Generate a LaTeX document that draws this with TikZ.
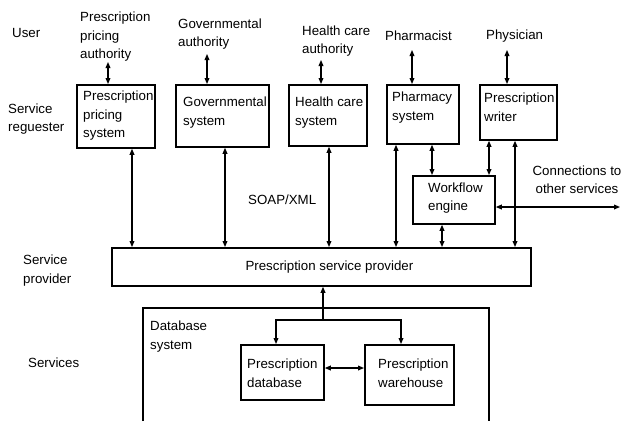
\documentclass[tikz,border=0pt]{standalone}
\usepackage{fontspec}
\setmainfont{Liberation Sans}
\usetikzlibrary{arrows.meta}

\tikzset{
  box/.style={draw, line width=1.8pt, anchor=north west, inner sep=0pt},
  txt/.style={anchor=west, align=left, inner sep=0pt, font=\fontsize{13.3}{18.5}\selectfont},
  link/.style={line width=1.1pt, {Triangle[length=6pt,width=4.8pt]}-{Triangle[length=6pt,width=4.8pt]}},
  uplink/.style={line width=1.1pt, -{Triangle[length=6pt,width=4.8pt]}},
}

\begin{document}
\begin{tikzpicture}[x=1pt,y=-1pt]
\useasboundingbox (0,0) rectangle (623,421);

% layer names
\node[txt] (user) at (12,33) {User};
\node[txt] (req) at (8,119) {Service\\reguester};
\node[txt] (prov) at (23,270.5) {Service\\provider};
\node[txt] (serv) at (28,363) {Services};

% users
\node[txt] (ppa) at (80,37) {Prescription\\pricing\\authority};
\node[txt] (ga) at (178,34) {Governmental\\authority};
\node[txt] (hca) at (302,41) {Health care\\authority};
\node[txt] (pharmacist) at (385,36) {Pharmacist};
\node[txt] (physician) at (486,36) {Physician};

% requesters
\node[box, minimum width=78, minimum height=63] (pps) at (76,84) {};
\node[txt] (ppstext) at (83,116) {Prescription\\pricing\\system};
\node[box, minimum width=93, minimum height=62] (gov) at (175,84) {};
\node[txt] (govtext) at (183,112.5) {Governmental\\system};
\node[box, minimum width=78, minimum height=61] (hcs) at (288,84) {};
\node[txt] (hcstext) at (295,112.5) {Health care\\system};
\node[box, minimum width=72, minimum height=59] (phs) at (386,84) {};
\node[txt] (phstext) at (392,107.5) {Pharmacy\\system};
\node[box, minimum width=77, minimum height=55] (pw) at (479,84) {};
\node[txt] (pwtext) at (484,107) {Prescription\\writer};
\node[box, minimum width=82, minimum height=48] (wfe) at (412,175) {};
\node[txt] (wfetext) at (428,198) {Workflow\\engine};

\node[txt] (soap) at (248,200) {SOAP/XML};
\node[txt, anchor=center, align=center] (conn) at (577,179.5) {Connections to\\other services};

% provider
\node[box, minimum width=419, minimum height=38, font=\fontsize{13.3}{18.5}\selectfont] (psp) at (111,247) {\hspace*{16pt}Prescription service provider};

% services
\draw[line width=1.8pt] (143,421) |- (489,308) -- (489,421);
\node[txt] (dbsys) at (150,336.5) {Database\\system};
\node[box, minimum width=83, minimum height=55] (pdb) at (240,344) {};
\node[txt] (pdbtext) at (247,373) {Prescription\\database};
\node[box, minimum width=89, minimum height=60] (pwh) at (364,344) {};
\node[txt] (pwhtext) at (378,373) {Prescription\\warehouse};

% user links
\coordinate (u1) at (108,62);
\coordinate (u2) at (207,54);
\coordinate (u3) at (321,60);
\coordinate (u4) at (412,50);
\coordinate (u5) at (507,50);
\draw[link] (u1) -- (u1 |- pps.north);
\draw[link] (u2) -- (u2 |- gov.north);
\draw[link] (u3) -- (u3 |- hcs.north);
\draw[link] (u4) -- (u4 |- phs.north);
\draw[link] (u5) -- (u5 |- pw.north);

% provider links
\coordinate (p1) at (132,247);
\coordinate (p2) at (225,247);
\coordinate (p3) at (329,247);
\coordinate (p4) at (396,247);
\coordinate (p5) at (442,247);
\coordinate (p6) at (515,247);
\draw[link] (p1 |- pps.south) -- (p1);
\draw[link] (p2 |- gov.south) -- (p2);
\draw[link] (p3 |- hcs.south) -- (p3);
\draw[link] (p4 |- phs.south) -- (p4);
\draw[link] (p5 |- wfe.south) -- (p5);
\draw[link] (p6 |- pw.south) -- (p6);

% workflow links
\coordinate (w1) at (432,175);
\coordinate (w2) at (489,175);
\coordinate (ext) at (620,207);
\draw[link] (w1 |- phs.south) -- (w1);
\draw[link] (w2 |- pw.south) -- (w2);
\draw[link] (wfe.east |- ext) -- (ext);

% database links
\coordinate (fork) at (323,320);
\coordinate (d1) at (276,320);
\coordinate (d2) at (401,320);
\coordinate (dw) at (340,368);
\draw[uplink] (fork) -- (fork |- psp.south);
\draw[uplink] (fork) -- (d1) -- (d1 |- pdb.north);
\draw[uplink] (fork) -- (d2) -- (d2 |- pwh.north);
\draw[link] (pdb.east |- dw) -- (pwh.west |- dw);
\end{tikzpicture}
\end{document}
